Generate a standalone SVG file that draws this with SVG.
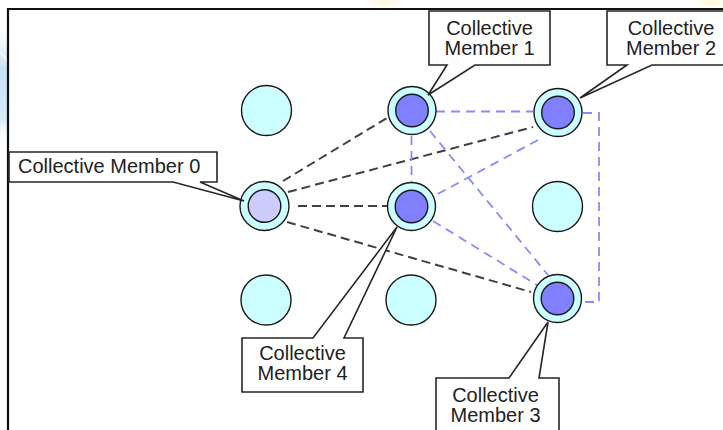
<svg xmlns="http://www.w3.org/2000/svg" width="723" height="430" viewBox="0 0 723 430">
  <defs>
    <linearGradient id="edgeBlue" x1="0" y1="0" x2="0" y2="1">
      <stop offset="0" stop-color="#e4f1fa" stop-opacity="0"/>
      <stop offset="0.35" stop-color="#c6e2f6"/>
      <stop offset="0.8" stop-color="#d6ebf8"/>
      <stop offset="1" stop-color="#ffffff" stop-opacity="0"/>
    </linearGradient>
    <radialGradient id="glow">
      <stop offset="0" stop-color="#fbf6d2"/>
      <stop offset="1" stop-color="#fffdf0" stop-opacity="0"/>
    </radialGradient>
    <style>
      .frame { fill: none; stroke: #111; stroke-width: 2.2; }
      .cell { fill: #ccffff; stroke: #1a1a1a; stroke-width: 1.4; }
      .core { fill: #8080ff; stroke: #1a1a1a; stroke-width: 1.4; }
      .core0 { fill: #ccccff; stroke: #1a1a1a; stroke-width: 1.4; }
      .link { fill: none; stroke: #404040; stroke-width: 2; stroke-dasharray: 9 5; }
      .peer { fill: none; stroke: #8a8aff; stroke-width: 1.8; stroke-dasharray: 9 6; }
      .callout { fill: #ffffff; stroke: #262626; stroke-width: 1.6; stroke-linejoin: miter; }
      .label { font-family: "Liberation Sans", Arial, sans-serif; font-size: 20px; fill: #222; }
      .mid { text-anchor: middle; }
    </style>
  </defs>

  <!-- faint backdrop outside the frame -->
  <rect x="0" y="28" width="8" height="115" fill="url(#edgeBlue)"/>
  <path d="M0,52 Q5,56 8,62" fill="none" stroke="#ffffff" stroke-width="1.5"/>
  <ellipse cx="384" cy="2" rx="26" ry="8" fill="url(#glow)"/>
  <ellipse cx="712" cy="2" rx="22" ry="8" fill="url(#glow)"/>

  <!-- frame -->
  <path class="frame" d="M8,430 V9 H723"/>

  <!-- connectors -->
  <g id="connectors">
    <line class="link" x1="283" y1="181" x2="387" y2="118"/>
    <line class="link" x1="288" y1="192" x2="533" y2="127"/>
    <line class="link" x1="298" y1="206" x2="387" y2="206"/>
    <line class="link" x1="287" y1="222" x2="531" y2="292"/>
    <line class="peer" x1="436" y1="111.5" x2="533" y2="111.5"/>
    <path class="peer" d="M583,113 H599 V302 H581"/>
    <line class="peer" x1="411.5" y1="136" x2="411.5" y2="182"/>
    <line class="peer" x1="430" y1="131" x2="548" y2="275"/>
    <line class="peer" x1="538" y1="140" x2="434" y2="196"/>
    <line class="peer" x1="433" y1="221" x2="537" y2="285"/>
  </g>

  <!-- plain grid cells -->
  <g id="cell-a"><circle class="cell" cx="266.5" cy="110.5" r="25"/></g>
  <g id="cell-b"><circle class="cell" cx="557.5" cy="206.5" r="25"/></g>
  <g id="cell-c"><circle class="cell" cx="266" cy="300" r="25"/></g>
  <g id="cell-d"><circle class="cell" cx="411" cy="300" r="25"/></g>

  <!-- collective members -->
  <g id="member-0">
    <circle class="cell" cx="264.5" cy="206" r="24.5"/>
    <circle class="core0" cx="264.5" cy="206" r="16.3"/>
  </g>
  <g id="member-1">
    <circle class="cell" cx="412" cy="110.5" r="24"/>
    <circle class="core" cx="412" cy="110.5" r="16.3"/>
  </g>
  <g id="member-2">
    <circle class="cell" cx="558" cy="112.5" r="24"/>
    <circle class="core" cx="558" cy="112.5" r="16.3"/>
  </g>
  <g id="member-3">
    <circle class="cell" cx="557.5" cy="298.5" r="24"/>
    <circle class="core" cx="557.5" cy="298.5" r="16.3"/>
  </g>
  <g id="member-4">
    <circle class="cell" cx="411.5" cy="206.5" r="24"/>
    <circle class="core" cx="411.5" cy="206.5" r="16.3"/>
  </g>

  <!-- callouts -->
  <g id="callout-0">
    <path class="callout" d="M9,152 H217 V182 H200 L244,201 L173,182 H9 Z"/>
    <text class="label" x="18" y="173">Collective Member 0</text>
  </g>
  <g id="callout-1">
    <path class="callout" d="M429,11 H550 V65 H475 L428,95 L447,65 H429 Z"/>
    <text class="label mid" x="489.5" y="35">Collective</text>
    <text class="label mid" x="489.5" y="55">Member 1</text>
  </g>
  <g id="callout-2">
    <path class="callout" d="M607,11 H740 V65 H652 L580,98 L627,65 H607 Z"/>
    <text class="label mid" x="671" y="35">Collective</text>
    <text class="label mid" x="671" y="55">Member 2</text>
  </g>
  <g id="callout-3">
    <path class="callout" d="M436,378 H509 L548,322 L539,378 H559 V440 H436 Z"/>
    <text class="label mid" x="495.5" y="401.5">Collective</text>
    <text class="label mid" x="495.5" y="422">Member 3</text>
  </g>
  <g id="callout-4">
    <path class="callout" d="M242,338 H313 L397,227 L344,338 H363 V392 H242 Z"/>
    <text class="label mid" x="302.5" y="359.5">Collective</text>
    <text class="label mid" x="302.5" y="380">Member 4</text>
  </g>
</svg>
